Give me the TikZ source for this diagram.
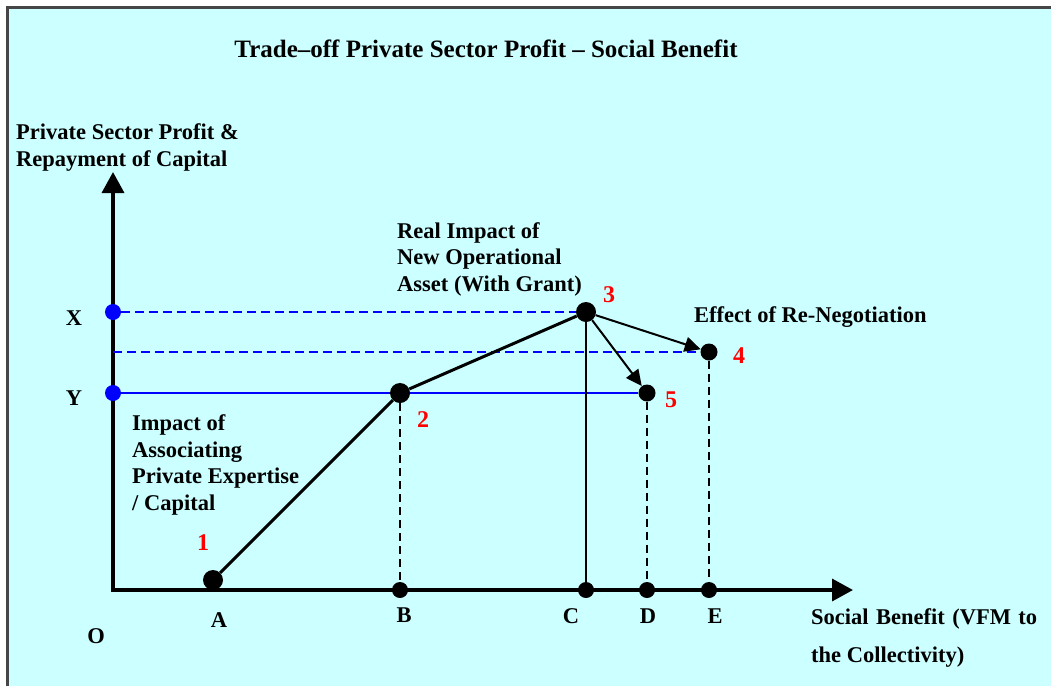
\documentclass[tikz,border=0pt]{standalone}
\usepackage{fontspec}
\setmainfont{Liberation Serif}
\usetikzlibrary{arrows.meta}
\definecolor{bgcyan}{RGB}{204,255,255}
\definecolor{framegray}{RGB}{70,70,70}
\definecolor{ptblue}{RGB}{0,0,255}
\definecolor{numred}{RGB}{255,0,0}
\begin{document}
\begin{tikzpicture}[x=1pt,y=-1pt,
  lbl/.style={font=\bfseries\fontsize{22.5}{26.5}\selectfont, inner sep=0pt, align=left, anchor=base west},
  axlbl/.style={font=\bfseries\fontsize{22.5}{26.5}\selectfont, inner sep=0pt, anchor=base},
  titlelbl/.style={font=\bfseries\fontsize{25}{30}\selectfont, inner sep=0pt, anchor=base},
  num/.style={font=\bfseries\fontsize{24}{28}\selectfont, text=numred, inner sep=0pt, anchor=base},
  bigdot/.style={circle, fill=black, inner sep=0pt, minimum size=20pt},
  middot/.style={circle, fill=black, inner sep=0pt, minimum size=17pt},
  axdot/.style={circle, fill=black, inner sep=0pt, minimum size=16pt},
  bluedot/.style={circle, fill=ptblue, inner sep=0pt, minimum size=16pt},
  axisline/.style={line width=3.5pt, line join=miter},
  mainline/.style={line width=3pt},
  moveline/.style={line width=2pt, -{Triangle[length=16pt,width=15pt]}},
  vsolid/.style={line width=2pt},
  vdash/.style={line width=1.8pt, dash pattern=on 8pt off 5pt},
  bluesolid/.style={line width=2pt, draw=ptblue},
  bluedash/.style={line width=2pt, draw=ptblue, dash pattern=on 9pt off 5pt},
]
% canvas
\useasboundingbox (0,0) rectangle (1051,686);
\fill[white] (0,0) rectangle (1051,686);
\fill[bgcyan] (7.5,7.5) rectangle (1051,686);
\draw[framegray, line width=2.5pt] (7.5,686) -- (7.5,7.5) -- (1051,7.5);

% axes
\coordinate (O) at (113,590);
\coordinate (ytip) at (113,172);
\coordinate (xtip) at (853,590);
\draw[axisline, {Triangle[length=21pt,width=22pt]}-{Triangle[length=21pt,width=22pt]}] (ytip) -- (O) -- (xtip);
\coordinate (yq) at (113,352);

% points
\node[bluedot] (pX) at (113,312) {};
\node[bluedot] (pY) at (113,393) {};
\node[bigdot] (p1) at (213,580) {};
\node[bigdot] (p2) at (400,393) {};
\node[bigdot] (p3) at (586,312) {};
\node[middot] (p4) at (709,352) {};
\node[middot] (p5) at (647,393) {};
\node[axdot] (pB) at (400,590) {};
\node[axdot] (pC) at (586,590) {};
\node[axdot] (pD) at (647,590) {};
\node[axdot] (pE) at (709,590) {};

% connectors
\draw[bluedash] (pX) -- (p3);
\draw[bluedash] (yq) -- (p4);
\draw[bluesolid] (pY) -- (p2);
\draw[bluesolid] (p2) -- (p5);
\draw[mainline] (p1) -- (p2);
\draw[mainline] (p2) -- (p3);
\draw[moveline] (p3) -- (p4);
\draw[moveline] (p3) -- (p5);
\draw[vdash] (p2) -- (pB);
\draw[vsolid] (p3) -- (pC);
\draw[vdash] (p5) -- (pD);
\draw[vdash] (p4) -- (pE);

% texts
\node[titlelbl] (title) at (486,57) {Trade–off Private Sector Profit – Social Benefit};
\node[lbl] (ylab) at (16,166) {Private Sector Profit \&\\Repayment of Capital};
\node[lbl, font=\bfseries\fontsize{22.5}{38}\selectfont] (xlab) at (811,662) {\makebox[226pt][s]{Social Benefit (VFM to}\\the Collectivity)};
\node[axlbl] (lX) at (74,325) {X};
\node[axlbl] (lY) at (74,405) {Y};
\node[axlbl] (lO) at (96,643) {O};
\node[axlbl] (lA) at (219,627) {A};
\node[axlbl] (lB) at (404,622) {B};
\node[axlbl] (lC) at (571,623) {C};
\node[axlbl] (lD) at (648,623) {D};
\node[axlbl] (lE) at (715,623) {E};
\node[lbl] (t1) at (132,510) {Impact of\\Associating\\Private Expertise\\/ Capital};
\node[lbl] (t3) at (397,291) {Real Impact of\\New Operational\\Asset (With Grant)};
\node[lbl] (t4) at (694,322) {Effect of Re-Negotiation};
\node[num] (n1) at (203,550) {1};
\node[num] (n2) at (423,427) {2};
\node[num] (n3) at (609,302) {3};
\node[num] (n4) at (739,363) {4};
\node[num] (n5) at (671,407) {5};
\end{tikzpicture}
\end{document}
